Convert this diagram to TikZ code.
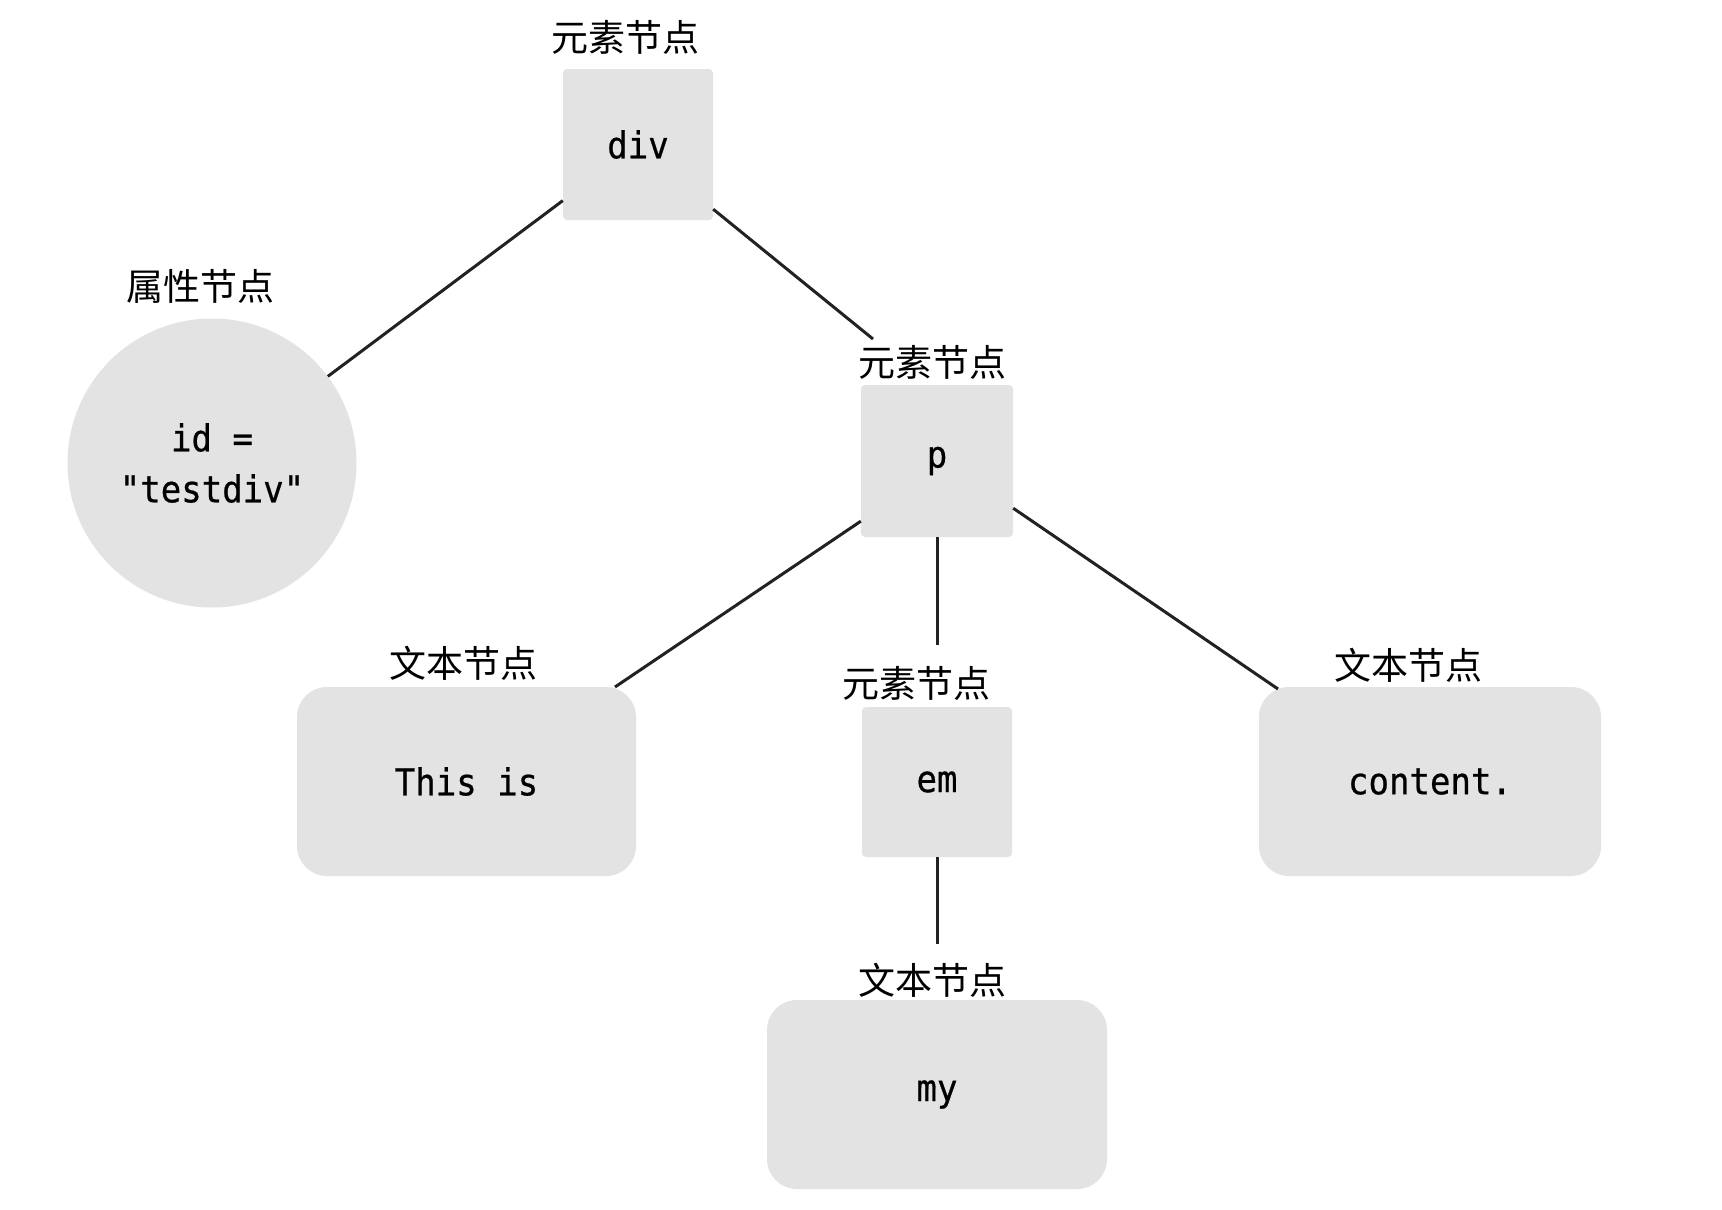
\documentclass[tikz,border=0pt]{standalone}
\usepackage{fontspec}
\setmonofont[FakeStretch=0.92,FakeBold=0.6]{DejaVu Sans Mono}
\newfontfamily\cjk{Noto Sans CJK SC}
\usetikzlibrary{calc}
\definecolor{boxgray}{HTML}{E3E3E3}
\definecolor{linegray}{HTML}{222222}
\tikzset{
  sqbox/.style={fill=boxgray, rounded corners=4pt, inner sep=0pt, minimum width=150pt, minimum height=151pt, font=\fontsize{37}{51}\selectfont\ttfamily},
  txtbox/.style={fill=boxgray, rounded corners=30pt, inner sep=0pt, minimum width=340pt, minimum height=189pt, font=\fontsize{37}{51}\selectfont\ttfamily},
  attrnode/.style={fill=boxgray, circle, inner sep=0pt, minimum size=289pt, align=center, font=\fontsize{37}{51}\selectfont\ttfamily},
  lbl/.style={inner sep=0pt, font=\fontsize{37}{40}\selectfont\cjk},
  conn/.style={draw=linegray, line width=3pt}
}
\begin{document}
\begin{tikzpicture}[x=1pt,y=-1pt]
\useasboundingbox (0,0) rectangle (1722,1210);
\fill[white] (0,0) rectangle (1722,1210);

\node[sqbox] (div) at (638,144.5) {div};
\node[lbl] (divlbl) at (625,37) {元素节点};

\node[attrnode] (attr) at (212,463) {id =\\"testdiv"};
\node[lbl] (attrlbl) at (200,286) {属性节点};

\node[sqbox, minimum width=152pt, minimum height=152pt] (p) at (937,461) {p};
\node[lbl] (plbl) at (932,362) {元素节点};

\node[txtbox, minimum width=339pt] (this) at (466.5,781.5) {This is};
\node[lbl] (thislbl) at (463,663) {文本节点};

\node[sqbox, minimum width=150pt, minimum height=150pt] (em) at (937,782) {em};
\node[lbl] (emlbl) at (916,683) {元素节点};

\node[txtbox, minimum width=342pt] (content) at (1430,781.5) {content.};
\node[lbl] (contentlbl) at (1408,665) {文本节点};

\node[txtbox, minimum width=340pt] (my) at (937,1094.5) {my};
\node[lbl] (mylbl) at (932,980) {文本节点};

\coordinate (pin) at (873,339);
\coordinate (thistop) at (615,687);
\coordinate (contenttop) at (1278,689);
\coordinate (emtop) at (937,645);
\coordinate (mytop) at (937,944);

\draw[conn] (div) -- (attr);
\draw[conn] ($(div.south east)+(0,-11)$) -- (pin);
\draw[conn] ($(p.south west)+(0,-16)$) -- (thistop);
\draw[conn] ($(p.south east)+(0,-29)$) -- (contenttop);
\draw[conn] (p.south) -- (emtop);
\draw[conn] (em.south) -- (mytop);
\end{tikzpicture}
\end{document}
